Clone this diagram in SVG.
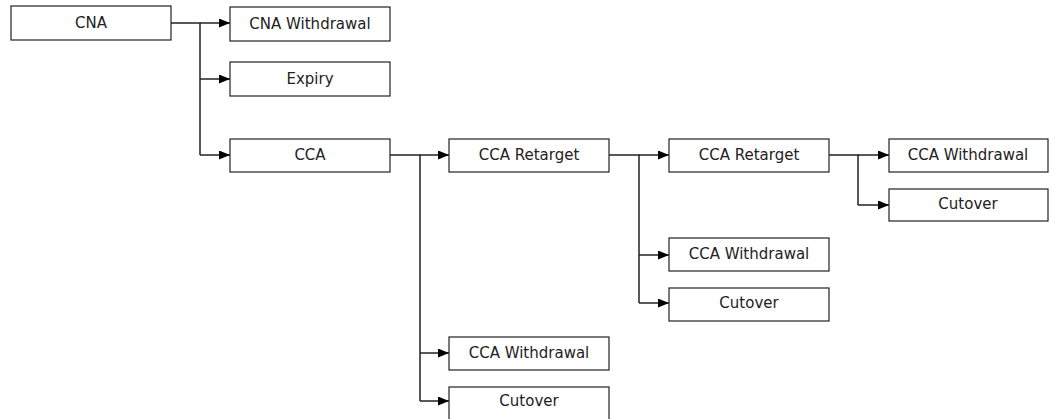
<svg xmlns="http://www.w3.org/2000/svg" width="1055" height="419" viewBox="0 0 1055 419">
<style>
.box{fill:#fff;stroke:#222;stroke-width:1.2}
.lbl{font-family:"DejaVu Sans",sans-serif;font-size:15px;fill:#222;text-anchor:middle;dominant-baseline:central}
.con{fill:none;stroke:#222;stroke-width:1.5}
</style>
<defs>
<marker id="arr" markerUnits="userSpaceOnUse" markerWidth="12" markerHeight="10" refX="11" refY="4.5" orient="auto">
<path d="M0,0 L11,4.5 L0,9 z" fill="#000"/>
</marker>
</defs>
<g id="connectors">
<path class="con" d="M171,23 H200 V155"/>
<path class="con" d="M200,23 H230" marker-end="url(#arr)"/>
<path class="con" d="M200,79 H230" marker-end="url(#arr)"/>
<path class="con" d="M200,155 H230" marker-end="url(#arr)"/>
<path class="con" d="M390,155 H420 V401"/>
<path class="con" d="M420,155 H449" marker-end="url(#arr)"/>
<path class="con" d="M420,353 H449" marker-end="url(#arr)"/>
<path class="con" d="M420,401 H449" marker-end="url(#arr)"/>
<path class="con" d="M609,155 H639 V303"/>
<path class="con" d="M639,155 H669" marker-end="url(#arr)"/>
<path class="con" d="M639,255 H669" marker-end="url(#arr)"/>
<path class="con" d="M639,303 H669" marker-end="url(#arr)"/>
<path class="con" d="M829,155 H858 V205"/>
<path class="con" d="M858,155 H889" marker-end="url(#arr)"/>
<path class="con" d="M858,205 H889" marker-end="url(#arr)"/>
</g>
<g id="n-cna"><rect class="box" x="11" y="6" width="160" height="34"/><text class="lbl" x="91" y="23">CNA</text></g>
<g id="n-cna-withdrawal"><rect class="box" x="230" y="7" width="160" height="34"/><text class="lbl" x="310" y="24">CNA Withdrawal</text></g>
<g id="n-expiry"><rect class="box" x="230" y="62" width="160" height="34"/><text class="lbl" x="310" y="79">Expiry</text></g>
<g id="n-cca"><rect class="box" x="230" y="139" width="160" height="33"/><text class="lbl" x="310" y="155">CCA</text></g>
<g id="n-cca-retarget-1"><rect class="box" x="449" y="139" width="160" height="33"/><text class="lbl" x="529" y="155">CCA Retarget</text></g>
<g id="n-cca-retarget-2"><rect class="box" x="669" y="139" width="160" height="33"/><text class="lbl" x="749" y="155">CCA Retarget</text></g>
<g id="n-cca-withdrawal-3"><rect class="box" x="889" y="139" width="159" height="33"/><text class="lbl" x="968" y="155">CCA Withdrawal</text></g>
<g id="n-cutover-3"><rect class="box" x="889" y="189" width="159" height="32"/><text class="lbl" x="968" y="204">Cutover</text></g>
<g id="n-cca-withdrawal-2"><rect class="box" x="669" y="238" width="160" height="33"/><text class="lbl" x="749" y="254">CCA Withdrawal</text></g>
<g id="n-cutover-2"><rect class="box" x="669" y="288" width="160" height="33"/><text class="lbl" x="749" y="303">Cutover</text></g>
<g id="n-cca-withdrawal-1"><rect class="box" x="449" y="337" width="160" height="33"/><text class="lbl" x="529" y="353">CCA Withdrawal</text></g>
<g id="n-cutover-1"><rect class="box" x="449" y="387" width="160" height="34"/><text class="lbl" x="529" y="401">Cutover</text></g>
</svg>
